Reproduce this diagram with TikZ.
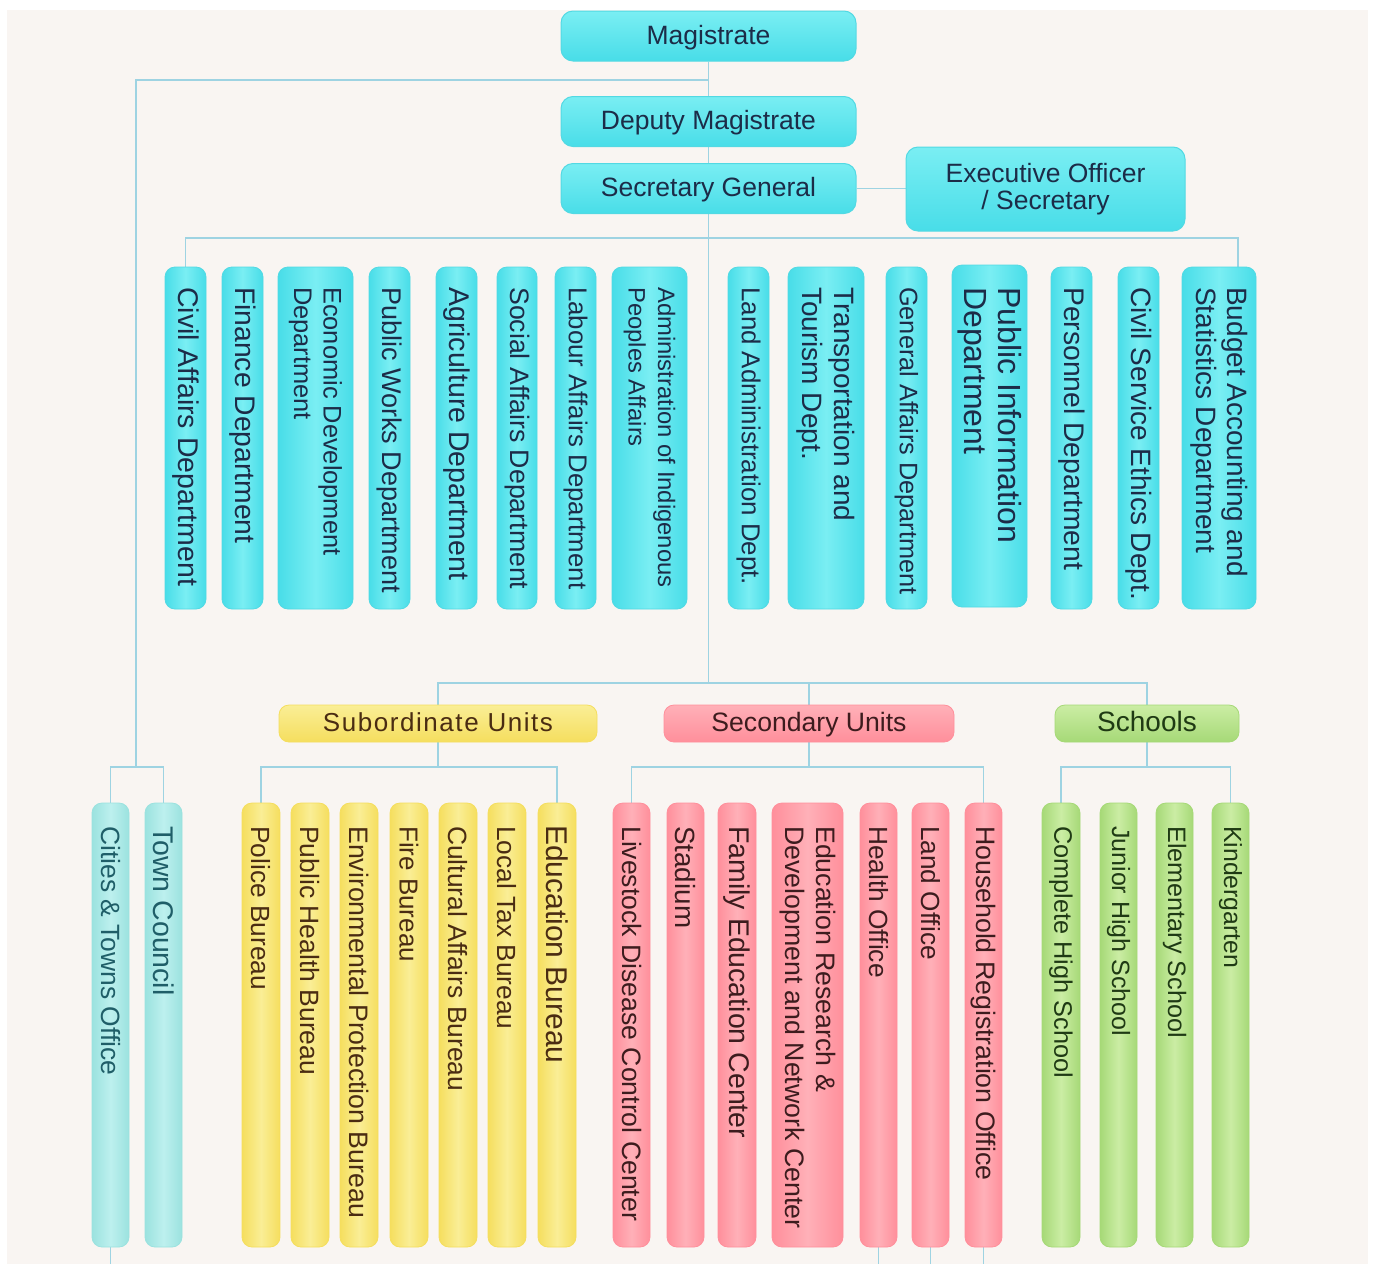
\documentclass[tikz,border=0pt]{standalone}
\usepackage{fontspec}
\setmainfont{Liberation Sans}
\usetikzlibrary{fit}
\definecolor{bgc}{HTML}{F9F5F2}
\definecolor{lineblue}{HTML}{9ED3E2}
\definecolor{cyanL}{HTML}{7AEEF3}
\definecolor{cyanD}{HTML}{48DDE8}
\definecolor{cyanB}{HTML}{52D9E3}
\definecolor{cyanT}{HTML}{1C2C48}
\definecolor{tealL}{HTML}{BDF0EE}
\definecolor{tealD}{HTML}{9BE2DF}
\definecolor{tealT}{HTML}{1F5E68}
\definecolor{yelL}{HTML}{FAEE96}
\definecolor{yelD}{HTML}{F5DE5E}
\definecolor{yelT}{HTML}{4A2C12}
\definecolor{pinkL}{HTML}{FFB0B8}
\definecolor{pinkD}{HTML}{FF8F9B}
\definecolor{pinkT}{HTML}{3D1C1E}
\definecolor{grnL}{HTML}{CBEDA4}
\definecolor{grnD}{HTML}{A6D977}
\definecolor{grnT}{HTML}{1F3A14}
\pgfdeclarelayer{back}
\pgfdeclarelayer{lines}
\pgfsetlayers{back,lines,main}
\tikzset{
  conn/.style={draw=lineblue, line width=1.6pt},
  topbox/.style={rounded corners=12pt, top color=cyanL, bottom color=cyanD, draw=cyanB, line width=1pt,
    inner sep=0, text=cyanT, font={\fontsize{26.5}{27}\selectfont}, align=center},
  onebox/.style={topbox, text height=19pt, text depth=3pt},
  catbox/.style={rounded corners=10pt, line width=0.8pt, inner sep=0, minimum height=37pt, text height=19pt, text depth=4pt},
  cyancol/.style={rounded corners=10pt, left color=cyanD, right color=cyanD, middle color=cyanL, draw=cyanB, line width=0.8pt, inner sep=0, outer sep=0},
  tealcol/.style={rounded corners=10pt, left color=tealD, right color=tealD, middle color=tealL, draw=tealD, line width=0.8pt, inner sep=0, outer sep=0},
  yelcol/.style={rounded corners=10pt, left color=yelD, right color=yelD, middle color=yelL, draw=yelD, line width=0.8pt, inner sep=0, outer sep=0},
  pinkcol/.style={rounded corners=10pt, left color=pinkD, right color=pinkD, middle color=pinkL, draw=pinkD, line width=0.8pt, inner sep=0, outer sep=0},
  grncol/.style={rounded corners=10pt, left color=grnD, right color=grnD, middle color=grnL, draw=grnD, line width=0.8pt, inner sep=0, outer sep=0},
  coltext/.style={inner sep=0, anchor=west, rotate=-90, align=left},
  cyantxt/.style={coltext, text=cyanT},
  tealtxt/.style={coltext, text=tealT},
  yeltxt/.style={coltext, text=yelT},
  pinktxt/.style={coltext, text=pinkT},
  grntxt/.style={coltext, text=grnT},
}
% name, xl, xr, ytop, ybot, colour prefix, {size}{skip}, text, text offset
\newcommand\vcol[9]{%
  \node[#6col, fit={(#2,#4)(#3,#5)}] (#1) {};
  \node[#6txt, font={\fontsize#7\selectfont}] (#1-t) at ([yshift=-#9pt]#1.north) {#8};
}
\begin{document}
\begin{tikzpicture}[x=1pt,y=-1pt]
\useasboundingbox (0,0) rectangle (1373,1264);
\begin{pgfonlayer}{back}
  \fill[white] (0,0) rectangle (1373,1264);
  \fill[bgc] (7,10) rectangle (1368,1264);
\end{pgfonlayer}

% top boxes
\node[onebox, minimum width=295pt, minimum height=50pt] (mag) at (708.5,36) {Magistrate};
\node[onebox, minimum width=295pt, minimum height=50pt] (dep) at (708.5,121.5) {Deputy Magistrate};
\node[onebox, minimum width=295pt, minimum height=50pt] (sec) at (708.5,188.5) {Secretary General};
\node[topbox, minimum width=279pt, minimum height=84pt] (exec) at (1045.5,189) {Executive Officer\\/ Secretary};

% departments
\vcol{civil}{165}{206}{267}{609}{cyan}{{28.5}{31}}{Civil Affairs Department}{20}
\vcol{finance}{222}{263}{267}{609}{cyan}{{28.3}{31}}{Finance Department}{20}
\vcol{econ}{278}{353}{267}{609}{cyan}{{25.4}{29.5}}{Economic Development\\Department}{20}
\vcol{pworks}{369}{410}{267}{609}{cyan}{{27}{31}}{Public Works Department}{20}
\vcol{agri}{436}{477}{267}{609}{cyan}{{28.5}{31}}{Agriculture Department}{20}
\vcol{social}{497}{537}{267}{609}{cyan}{{26.7}{31}}{Social Affairs Department}{20}
\vcol{labour}{555}{596}{267}{609}{cyan}{{25.8}{31}}{Labour Affairs Department}{20}
\vcol{admin}{612}{687}{267}{609}{cyan}{{23.8}{29.5}}{Administration of Indigenous\\Peoples Affairs}{20}
\vcol{landadm}{728}{769}{267}{609}{cyan}{{25.9}{31}}{Land Administration Dept.}{20}
\vcol{transp}{788}{864}{267}{609}{cyan}{{28}{32}}{Transportation and\\Tourism Dept.}{20}
\vcol{general}{886}{927}{267}{609}{cyan}{{25.3}{31}}{General Affairs Department}{20}
\vcol{pinfo}{952}{1027}{265}{607}{cyan}{{32}{34}}{Public Information\\Department}{22}
\vcol{personnel}{1051}{1092}{267}{609}{cyan}{{28.3}{31}}{Personnel Department}{20}
\vcol{ethics}{1118}{1159}{267}{609}{cyan}{{28}{31}}{Civil Service Ethics Dept.}{20}
\vcol{budget}{1182}{1256}{267}{609}{cyan}{{28}{31}}{Budget Accounting and\\Statistics Department}{20}

% categories
\node[catbox, top color=yelL, bottom color=yelD, draw=yelD, minimum width=318pt, text=yelT,
  font={\fontsize{26}{30}\selectfont\addfontfeature{LetterSpace=6}}] (subu) at (438,723.5) {Subordinate Units};
\node[catbox, top color=pinkL, bottom color=pinkD, draw=pinkD, minimum width=290pt, text=pinkT,
  font={\fontsize{26.6}{30}\selectfont}] (secu) at (809,723.5) {Secondary Units};
\node[catbox, top color=grnL, bottom color=grnD, draw=grnD, minimum width=184pt, text=grnT,
  font={\fontsize{28}{30}\selectfont}] (schools) at (1147,723.5) {Schools};

% lower columns
\vcol{cities}{92}{129}{803}{1247}{teal}{{26.4}{30}}{Cities \& Towns Office}{23}
\vcol{town}{145}{182}{803}{1247}{teal}{{28.5}{30}}{Town Council}{23}
\vcol{police}{242}{280}{803}{1247}{yel}{{26.3}{30}}{Police Bureau}{23}
\vcol{phealth}{291}{329}{803}{1247}{yel}{{26.5}{30}}{Public Health Bureau}{23}
\vcol{env}{340}{378}{803}{1247}{yel}{{26.7}{30}}{Environmental Protection Bureau}{23}
\vcol{fire}{390}{428}{803}{1247}{yel}{{26}{30}}{Fire Bureau}{23}
\vcol{cultural}{439}{477}{803}{1247}{yel}{{26.4}{30}}{Cultural Affairs Bureau}{23}
\vcol{localtax}{488}{526}{803}{1247}{yel}{{26.3}{30}}{Local Tax Bureau}{23}
\vcol{edub}{538}{576}{803}{1247}{yel}{{30}{32}}{Education Bureau}{22}
\vcol{livestock}{613}{650}{803}{1247}{pink}{{26.6}{30}}{Livestock Disease Control Center}{23}
\vcol{stadium}{667}{704}{803}{1247}{pink}{{27.8}{30}}{Stadium}{23}
\vcol{family}{718}{756}{803}{1247}{pink}{{28.5}{30}}{Family Education Center}{23}
\vcol{edures}{772}{843}{803}{1247}{pink}{{26.7}{31}}{Education Research \&\\Development and Network Center}{23}
\vcol{health}{860}{897}{803}{1247}{pink}{{26.3}{30}}{Health Office}{23}
\vcol{landoff}{912}{949}{803}{1247}{pink}{{26.2}{30}}{Land Office}{23}
\vcol{household}{965}{1002}{803}{1247}{pink}{{26.7}{30}}{Household Registration Office}{23}
\vcol{complete}{1042}{1080}{803}{1247}{grn}{{25.3}{30}}{Complete High School}{23}
\vcol{junior}{1100}{1137}{803}{1247}{grn}{{25}{30}}{Junior High School}{23}
\vcol{elem}{1156}{1193}{803}{1247}{grn}{{25.2}{30}}{Elementary School}{23}
\vcol{kinder}{1212}{1249}{803}{1247}{grn}{{24.8}{30}}{Kindergarten}{23}

% junctions
\coordinate (jL1) at (136,80);
\coordinate (jL2) at (136,767);
\coordinate (jD) at (708.5,238);
\coordinate (jU) at (708.5,683);
\coordinate (jS) at (438,767);
\coordinate (jE) at (809,767);
\coordinate (jH) at (1147,767);
\coordinate (edge) at (0,1264);

\begin{pgfonlayer}{lines}
  \draw[conn] (mag.south) -- (dep.north);
  \draw[conn] (dep.south) -- (sec.north);
  \draw[conn] (sec.east) -- (sec.east -| exec.west);
  \draw[conn] (mag.south) |- (jL1) -- (jL2);
  \draw[conn] (cities.north) |- (jL2) -| (town.north);
  \draw[conn] (sec.south) -- (jU);
  \draw[conn] (civil.north) |- (jD) -| ([xshift=19pt]budget.north);
  \draw[conn] (subu.north) |- (jU) -| (schools.north);
  \draw[conn] (secu.north) -- (secu.north |- jU);
  \draw[conn] (subu.south) -- (jS);
  \draw[conn] (police.north) |- (jS) -| (edub.north);
  \draw[conn] (secu.south) -- (jE);
  \draw[conn] (livestock.north) |- (jE) -| (household.north);
  \draw[conn] (schools.south) -- (jH);
  \draw[conn] (complete.north) |- (jH) -| (kinder.north);
  \draw[conn] (cities.south) -- (cities.south |- edge);
  \draw[conn] (health.south) -- (health.south |- edge);
  \draw[conn] (landoff.south) -- (landoff.south |- edge);
  \draw[conn] (household.south) -- (household.south |- edge);
\end{pgfonlayer}
\end{tikzpicture}
\end{document}
